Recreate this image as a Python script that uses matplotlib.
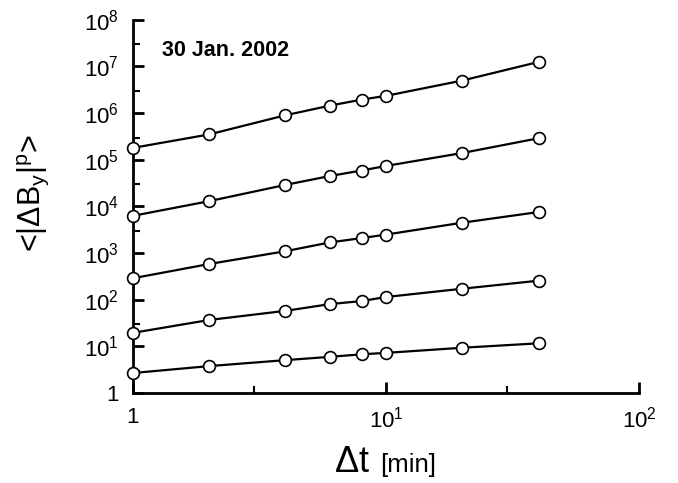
import math
import matplotlib
matplotlib.use("Agg")
import matplotlib.pyplot as plt
from matplotlib.ticker import FixedLocator, FuncFormatter, NullFormatter

plt.rcParams['font.family'] = ['Liberation Sans', 'DejaVu Sans']
plt.rcParams['mathtext.fontset'] = 'custom'
plt.rcParams['mathtext.rm'] = 'Liberation Sans'
plt.rcParams['mathtext.it'] = 'Liberation Sans'

# time lags [min]
dt = [1, 2, 4, 6, 8, 10, 20, 40]

# structure functions, top to bottom
s1 = [1.8e5, 3.5e5, 9.0e5, 1.45e6, 1.95e6, 2.35e6, 5.0e6, 1.25e7]
s2 = [6.3e3, 1.3e4, 2.9e4, 4.5e4, 5.9e4, 7.4e4, 1.4e5, 2.9e5]
s3 = [290, 585, 1100, 1700, 2100, 2500, 4500, 7600]
s4 = [19.6, 37, 58, 81, 94, 115, 173, 257]
s5 = [2.7, 3.8, 5.1, 6.0, 6.8, 7.3, 9.4, 11.7]
series = [s1, s2, s3, s4, s5]

x_major = [1, 10, 100]
x_minor = [3, 30]
y_major = [10.0**k for k in range(0, 9)]
y_minor = [3 * 10.0**k for k in range(0, 8)]

fig = plt.figure(figsize=(6.78, 4.83), dpi=100)
ax = fig.add_axes([0.196, 0.186, 0.747, 0.773])

for s in series:
    ax.plot(dt, s, '-', color='black', lw=1.6, marker='o', ms=8.5,
            mfc='white', mec='black', mew=1.2, clip_on=False, zorder=3)

ax.set_xscale('log')
ax.set_yscale('log')
ax.set_xlim(1, 100)
ax.set_ylim(1, 1e8)

def logfmt(v, pos):
    if abs(v - 1) < 1e-9:
        return '1'
    k = int(round(math.log10(v)))
    return r'$\mathregular{10^{%d}}$' % k

ax.xaxis.set_major_locator(FixedLocator(x_major))
ax.xaxis.set_minor_locator(FixedLocator(x_minor))
ax.yaxis.set_major_locator(FixedLocator(y_major))
ax.yaxis.set_minor_locator(FixedLocator(y_minor))
ax.xaxis.set_major_formatter(FuncFormatter(logfmt))
ax.yaxis.set_major_formatter(FuncFormatter(logfmt))
ax.xaxis.set_minor_formatter(NullFormatter())
ax.yaxis.set_minor_formatter(NullFormatter())

ax.spines['top'].set_visible(False)
ax.spines['right'].set_visible(False)
ax.spines['left'].set_linewidth(2)
ax.spines['bottom'].set_linewidth(2)
ax.tick_params(which='major', direction='in', length=8, width=2, labelsize=16, pad=10)
ax.tick_params(which='minor', direction='in', length=5, width=1.5)

ax.text(0.057, 0.918, '30 Jan. 2002', transform=ax.transAxes,
        fontsize=15.5, fontweight='bold', va='center', ha='left')

fig.text(0.049, 0.6, r'<|$\Delta$B$_\mathregular{y}$|$^\mathregular{p}$>',
         rotation=90, fontsize=22, ha='center', va='center')
fig.text(0.492, 0.023, r'$\mathregular{\Delta}$t', fontsize=26, ha='left', va='baseline')
fig.text(0.56, 0.023, '[min]', fontsize=18.5, ha='left', va='baseline')

fig.savefig('out.png', dpi=100)
